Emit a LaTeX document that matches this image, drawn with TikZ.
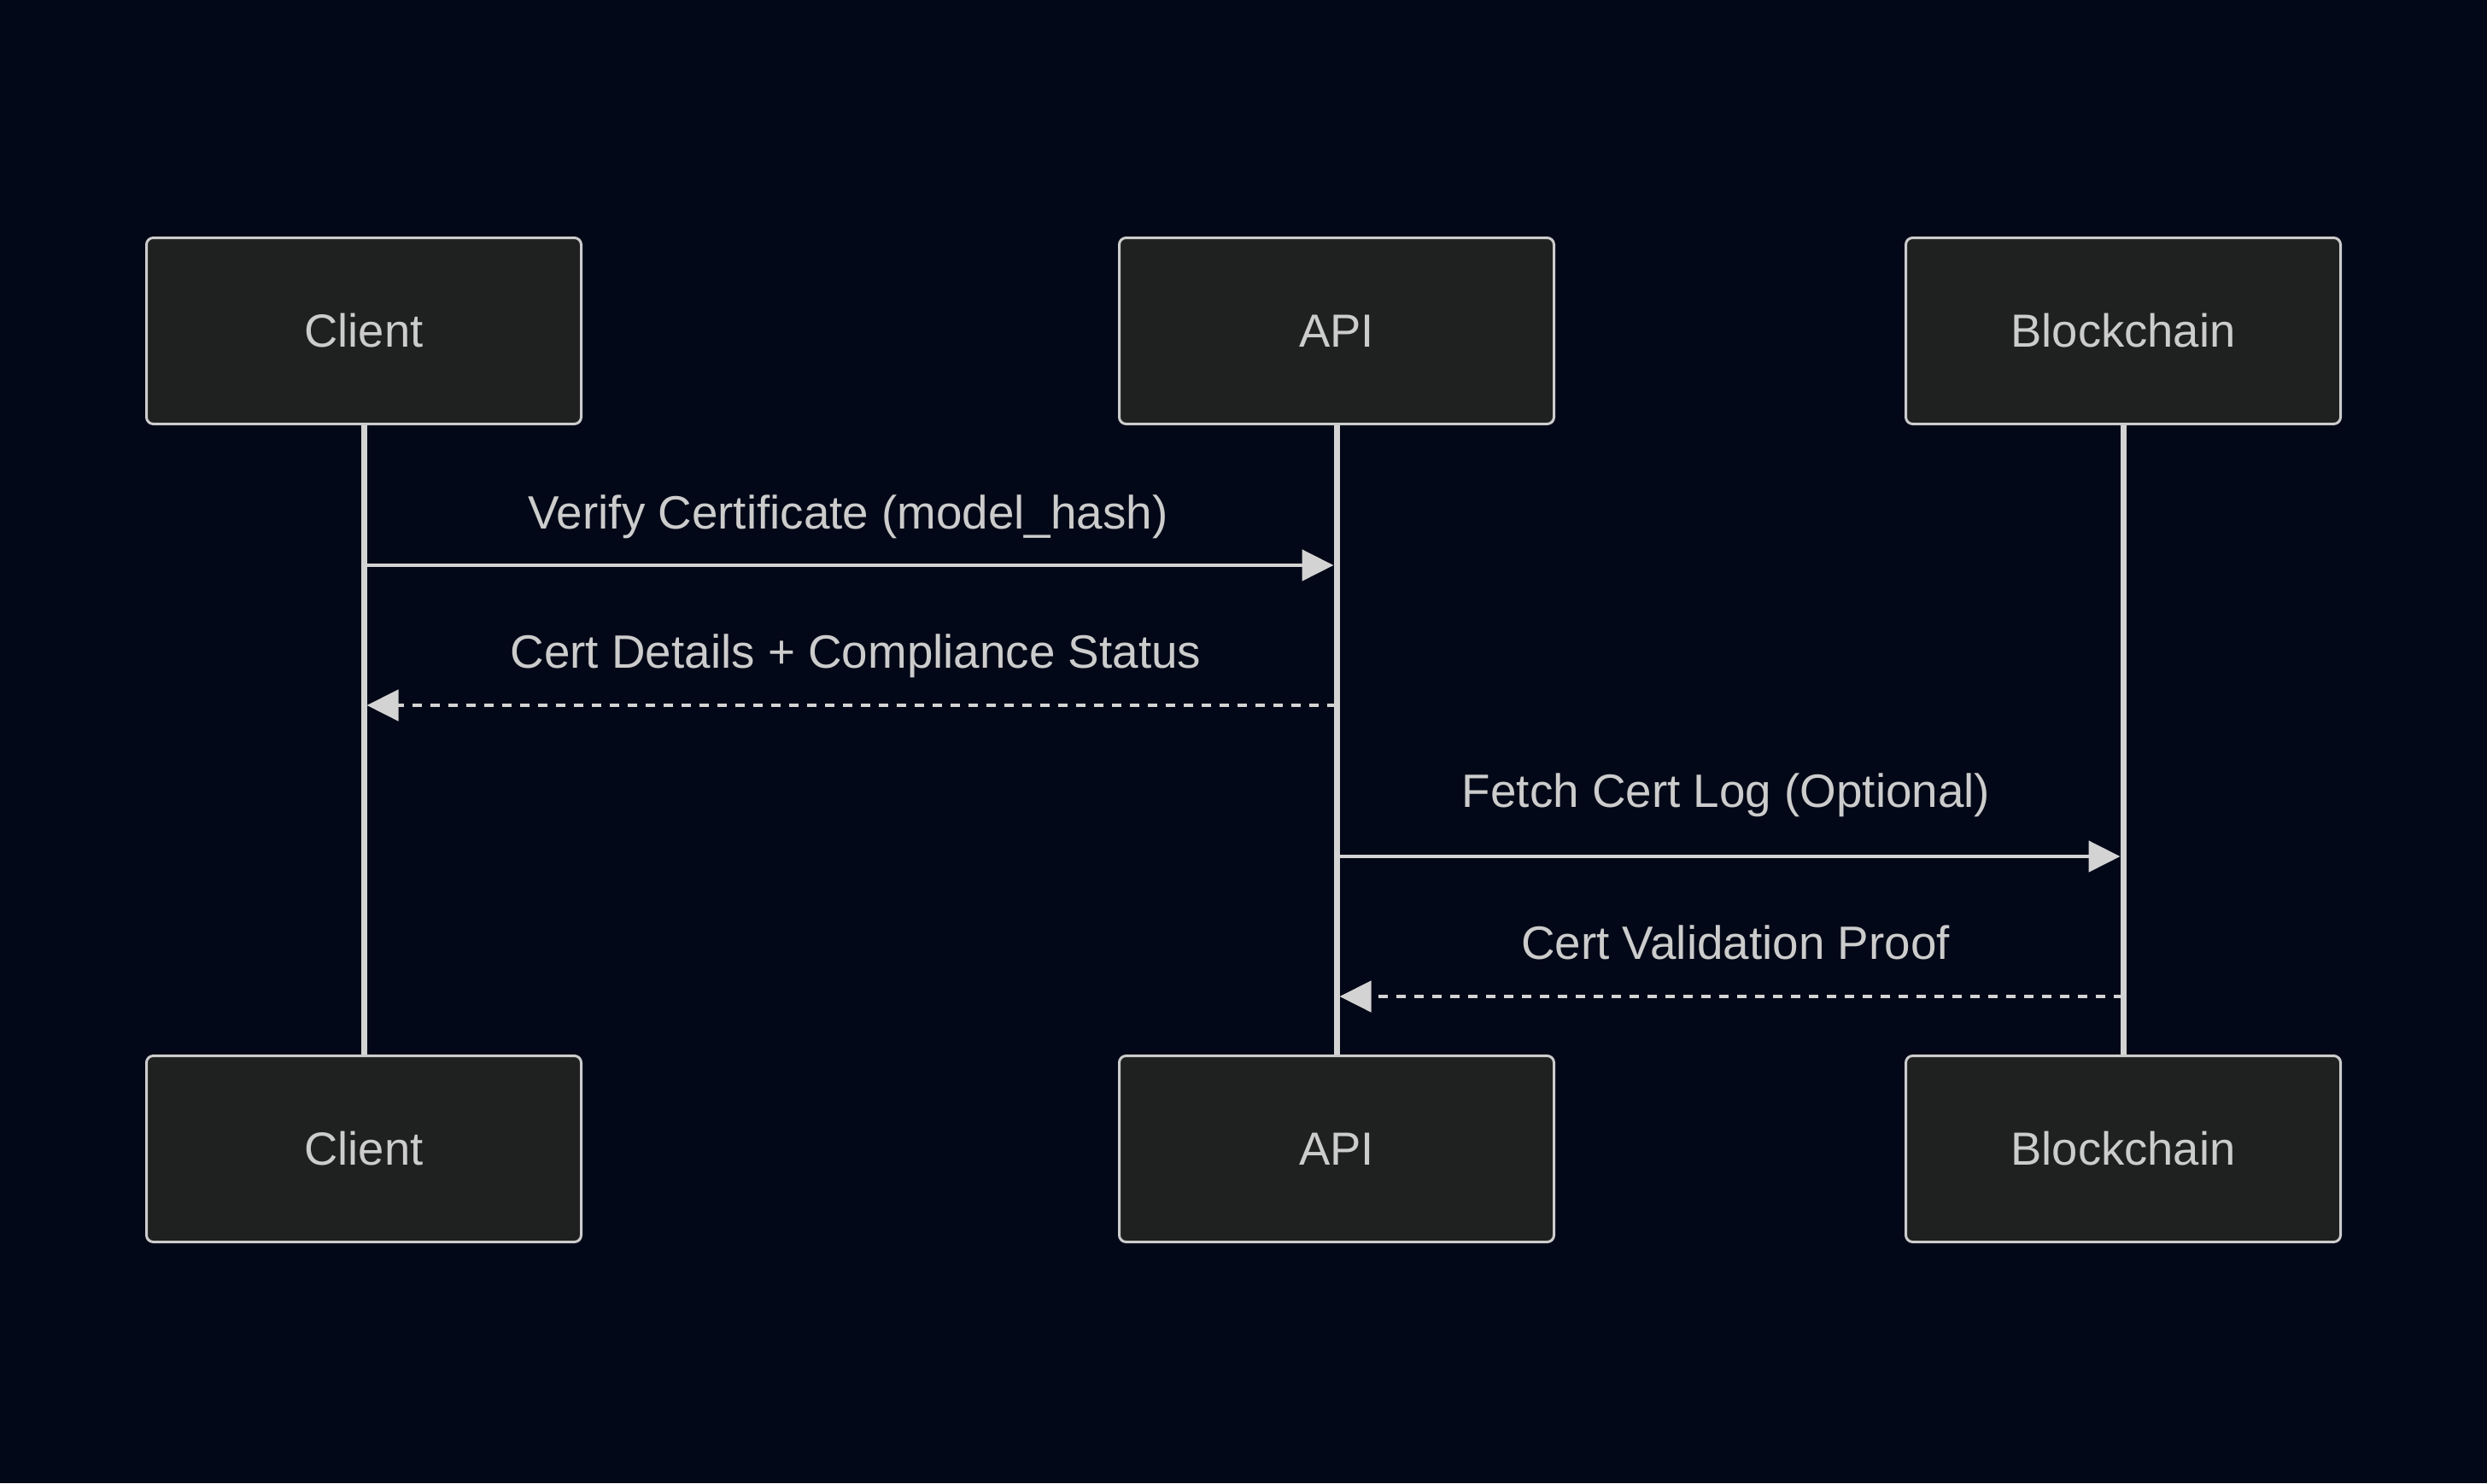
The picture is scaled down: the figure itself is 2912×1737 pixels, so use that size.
\documentclass[tikz,border=0pt]{standalone}
\usepackage{fontspec}
\setmainfont{Liberation Sans}
\usetikzlibrary{arrows.meta}
\definecolor{bgc}{HTML}{020817}
\definecolor{boxfill}{HTML}{1F2020}
\definecolor{boxline}{HTML}{CCCCCC}
\definecolor{linec}{HTML}{D3D3D3}
\definecolor{txtc}{HTML}{CCCCCC}
\tikzset{
  actor/.style={draw=boxline, fill=boxfill, line width=1.5pt, rounded corners=4pt,
    minimum width=254.5pt, minimum height=109pt, inner sep=0pt, text=txtc,
    font=\fontsize{27.2}{32}\selectfont},
  lifeline/.style={draw=linec, line width=3.5pt},
  msg/.style={draw=linec, line width=2.4pt, -{Triangle[length=18.5pt,width=18pt]}, shorten >=1.75pt},
  dashmsg/.style={msg, dash pattern=on 5.5pt off 5pt},
  lbl/.style={text=txtc, anchor=base, inner sep=0pt, font=\fontsize{27.4}{32}\selectfont}
}
\begin{document}
\begin{tikzpicture}[x=0.5pt,y=-0.5pt]
\fill[bgc] (0,0) rectangle (2912,1737);
\useasboundingbox (0,0) rectangle (2912,1737);
% actors
\node[actor] (cT) at (426,387.5) {Client};
\node[actor] (aT) at (1565,387.5) {API};
\node[actor] (bT) at (2486,387.5) {Blockchain};
\node[actor] (cB) at (426,1345.5) {Client};
\node[actor] (aB) at (1565,1345.5) {API};
\node[actor] (bB) at (2486,1345.5) {Blockchain};
% lifelines
\draw[lifeline] (cT.south) -- (cB.north);
\draw[lifeline] (aT.south) -- (aB.north);
\draw[lifeline] (bT.south) -- (bB.north);
% message rows
\coordinate (y1) at (0,662);
\coordinate (y2) at (0,826);
\coordinate (y3) at (0,1003);
\coordinate (y4) at (0,1167);
% messages
\draw[msg] (cT |- y1) -- (aT |- y1);
\draw[dashmsg] (aT |- y2) -- (cT |- y2);
\draw[msg] (aT |- y3) -- (bT |- y3);
\draw[dashmsg] (bT |- y4) -- (aT |- y4);
% labels
\node[lbl] (l1) at (993,619) {Verify Certificate (model\_hash)};
\node[lbl] (l2) at (1002,782) {Cert Details + Compliance Status};
\node[lbl] (l3) at (2021,945) {Fetch Cert Log (Optional)};
\node[lbl] (l4) at (2032,1123) {Cert Validation Proof};
\end{tikzpicture}
\end{document}
